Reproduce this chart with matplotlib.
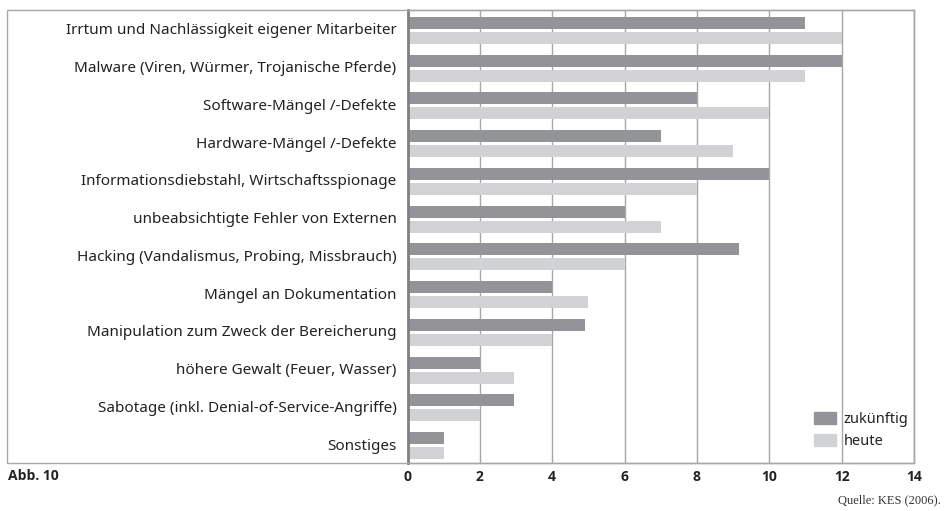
import matplotlib
matplotlib.use("Agg")
import matplotlib.pyplot as plt
from matplotlib.patches import Rectangle, Patch
import numpy as np

categories = [
    "Irrtum und Nachlässigkeit eigener Mitarbeiter",
    "Malware (Viren, Würmer, Trojanische Pferde)",
    "Software-Mängel /-Defekte",
    "Hardware-Mängel /-Defekte",
    "Informationsdiebstahl, Wirtschaftsspionage",
    "unbeabsichtigte Fehler von Externen",
    "Hacking (Vandalismus, Probing, Missbrauch)",
    "Mängel an Dokumentation",
    "Manipulation zum Zweck der Bereicherung",
    "höhere Gewalt (Feuer, Wasser)",
    "Sabotage (inkl. Denial-of-Service-Angriffe)",
    "Sonstiges",
]
zukuenftig = [11, 12, 8, 7, 10, 6, 9.15, 4, 4.9, 2, 2.95, 1]
heute = [12, 11, 10, 9, 8, 7, 6, 5, 4, 2.95, 2, 1]
xticks = [0, 2, 4, 6, 8, 10, 12, 14]
series_names = ["zukünftig", "heute"]

dark = "#939497"
light = "#d1d2d4"
gridc = "#a8a8a8"

plt.rcParams['font.family'] = ['Noto Sans', 'DejaVu Sans']
boldfam = ['Open Sans', 'DejaVu Sans']

fig = plt.figure(figsize=(9.46, 5.11), dpi=100)
W, H = 946, 511
ax = fig.add_axes([407.5 / W, 1 - 463 / H, (914 - 407.5) / W, (463 - 10) / H])

n = len(categories)
y = np.arange(n)
h = 0.32
ax.barh(y - 0.16, zukuenftig, height=h, color=dark, zorder=3)
ax.barh(y + 0.24, heute, height=h, color=light, zorder=3)

ax.set_ylim(n - 0.5, -0.5)
ax.set_xlim(0, 14)
ax.set_xticks(xticks)
ax.set_xticklabels([str(t) for t in xticks], fontweight='bold', family=boldfam,
                   fontsize=10, color="#222222")
ax.set_yticks(y)
ax.set_yticklabels(categories, fontsize=11, color="#222222")
ax.tick_params(axis='both', length=0)
ax.tick_params(axis='y', pad=8)
ax.tick_params(axis='x', pad=5)

ax.grid(axis='x', color=gridc, linewidth=1, zorder=0)
ax.set_axisbelow(True)
for s in ['top', 'right', 'bottom']:
    ax.spines[s].set_color(gridc)
    ax.spines[s].set_linewidth(1)
ax.spines['left'].set_color("#808080")
ax.spines['left'].set_linewidth(2)
ax.spines['left'].set_zorder(5)

# outer frame around the label region
fig.patches.append(Rectangle((7 / W, 1 - 463 / H), (914 - 7) / W, (463 - 10) / H,
                             transform=fig.transFigure, fill=False,
                             edgecolor=gridc, linewidth=1, zorder=0))

handles = [Patch(color=dark), Patch(color=light)]
ax.legend(handles, series_names, loc='lower right', bbox_to_anchor=(1.0, 0.018),
          borderaxespad=0, frameon=False, fontsize=10.5, handlelength=1.5,
          handleheight=0.9, handletextpad=0.5, labelspacing=0.45, labelcolor="#222222")

fig.text(8 / W, 1 - 476 / H, "Abb. 10", fontweight='bold', family=boldfam, fontsize=10,
         va='center', ha='left', color="#222222")
fig.text(941 / W, 1 - 500 / H, "Quelle: KES (2006).", family=['Liberation Serif', 'DejaVu Serif'],
         fontsize=9, va='center', ha='right', color="#333333")

fig.savefig("out.png", dpi=100)
